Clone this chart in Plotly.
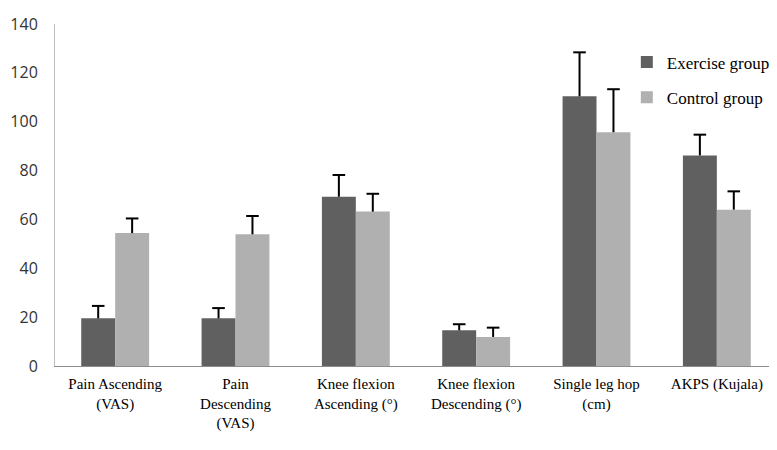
import plotly.graph_objects as go

categories = ["Pain Ascending<br>(VAS)", "Pain<br>Descending<br>(VAS)", "Knee flexion<br>Ascending (°)",
              "Knee flexion<br>Descending (°)", "Single leg hop<br>(cm)", "AKPS (Kujala)"]
exercise = [19.5, 19.5, 69.3, 14.6, 110.4, 86.2]
exercise_err = [5.1, 4.2, 8.9, 2.5, 18.0, 8.5]
control = [54.4, 53.9, 63.2, 11.9, 95.7, 64.0]
control_err = [6.0, 7.5, 7.3, 3.8, 17.6, 7.5]
y_ticks = [0, 20, 40, 60, 80, 100, 120, 140]

series = [
    ("Exercise group", exercise, exercise_err, "#606060", "g1"),
    ("Control group", control, control_err, "#b0b0b0", "g2"),
]

fig = go.Figure()
for name, vals, errs, color, grp in series:
    fig.add_trace(go.Bar(
        x=categories, y=vals, name=name, offsetgroup=grp, legendgroup=grp,
        marker=dict(color=color, line=dict(width=0)),
    ))
for name, vals, errs, color, grp in series:
    tops = [v + e for v, e in zip(vals, errs)]
    fig.add_trace(go.Scatter(
        x=categories, y=tops, mode="markers", offsetgroup=grp, showlegend=False,
        marker=dict(symbol="line-ew", size=9, line=dict(width=2, color="black")),
        error_y=dict(type="data", symmetric=False, array=[0] * len(errs), arrayminus=errs,
                     color="black", thickness=2, width=0),
        hoverinfo="skip",
    ))

fig.update_layout(
    width=769, height=430,
    margin=dict(l=47, r=0, t=16, b=72, autoexpand=False),
    paper_bgcolor="white", plot_bgcolor="white",
    barmode="group", bargap=0.436, bargroupgap=0,
    scattermode="group", scattergap=0.436,
    showlegend=True,
    legend=dict(x=0.792, y=0.94, xanchor="left", yanchor="top",
                font=dict(family="Liberation Serif", size=17, color="black"),
                bgcolor="rgba(0,0,0,0)", tracegroupgap=10, itemwidth=30,
                entrywidth=130, entrywidthmode="pixels"),
    xaxis=dict(showline=True, linecolor="#8c8c8c", linewidth=1, ticks="",
               tickfont=dict(family="Liberation Serif", size=15, color="black"),
               showgrid=False, fixedrange=True, automargin=False, ticklabelstandoff=4),
    yaxis=dict(range=[0, 140], tickvals=y_ticks, showline=True, linecolor="#bfbfbf", linewidth=1,
               ticks="", showgrid=False, zeroline=False, automargin=False,
               tickfont=dict(family="Open Sans", size=16, color="#333333"), ticklabelstandoff=13),
)

fig.write_html("out.html")
